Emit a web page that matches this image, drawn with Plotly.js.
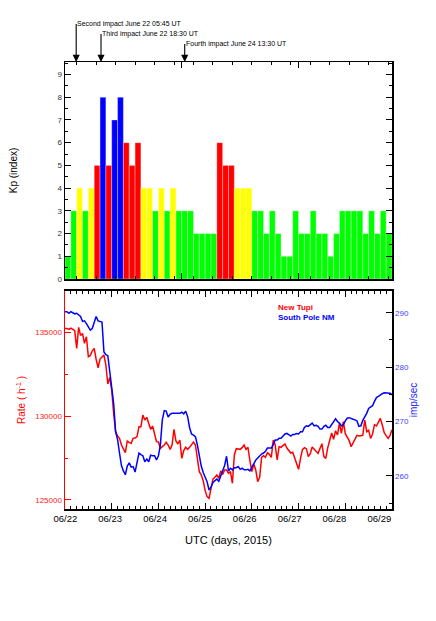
<!DOCTYPE html>
<html>
<head>
<meta charset="utf-8">
<script src="https://cdn.plot.ly/plotly-3.0.1.min.js"></script>
<style>html,body{margin:0;padding:0;background:#fff;}#chart{width:436px;height:621px;}</style>
</head>
<body>
<div id="chart"></div>
<script>
// ---- Data ----
const startDay = '2015-06-22';
const endDay = '2015-06-29';
// Kp index, 3-hour intervals, June 22 - June 28, 2015
const kpValues = [1,3,4,3,4,5,8,5, 7,8,6,5,6,4,4,3, 4,3,4,3,3,3,2,2, 2,2,6,5,5,4,4,4,
                  3,3,2,3,2,1,1,3, 2,2,3,2,2,1,2,3, 3,3,3,2,3,2,3,2];
// hourly counting rates from June 22 00 UT
const newTupi = [135254,135254,135194,135274,135194,135114,134059,135313,134835,134955,134358,134756,
133561,133641,133900,134059,133402,132904,133422,133561,133661,133064,131929,132327,131570,130177,129082,
128823,128683,128285,128026,127827,128544,128424,128385,128683,128703,128783,129380,129380,130077,129778,
129938,129579,129221,129420,128883,128484,128464,128086,128186,128285,128444,128285,128026,128285,129221,
128524,128345,128584,127489,127947,128146,128026,128146,128325,128464,128285,127588,126692,126493,126155,
125557,125199,125100,125796,126234,126354,126493,126294,126732,126533,126792,126792,126593,126692,125996,
127688,128066,128046,128026,128126,128285,128026,128146,127349,126692,127150,126792,126095,126354,127548,
127648,127548,127827,127728,127548,128584,128285,127389,128186,128146,128245,128345,128106,127947,127807,
127847,127509,127150,126832,127489,128006,128126,128066,127588,127767,128166,128006,127907,127787,128146,
128365,127588,127489,128126,128663,129002,128624,129141,128883,129579,128982,129679,128962,128783,128544,
128186,128424,128703,128862,128823,128843,128862,129778,129082,129161,128683,128942,129500,129420,129639,
129878,129480,129022,128843,128683,128862,129201];
const southPole = [290.2,290.2,289.9,290.2,290.0,289.8,289.9,289.6,289.3,288.4,288.5,288.0,287.4,286.8,
287.1,288.2,289.3,288.5,288.4,288.3,282.8,282.3,282.1,279.2,276.1,273.3,268.1,266.7,264.2,261.9,260.9,
260.2,261.8,262.4,261.6,261.7,260.7,262.3,264.2,263.9,263.7,262.6,263.1,262.6,263.8,263.7,263.7,262.9,
263.7,265.7,270.3,272.0,271.9,270.8,271.3,271.5,271.5,271.5,271.6,271.5,271.7,271.4,271.9,270.9,268.9,
267.7,267.5,267.2,265.7,263.6,261.8,260.6,259.9,258.9,257.4,257.9,258.8,259.1,259.4,259.0,260.0,261.0,
261.9,263.6,260.9,261.4,261.1,261.5,261.5,261.7,261.2,261.4,261.1,261.1,261.2,260.9,261.6,262.3,262.9,
263.3,263.7,264.0,264.2,264.5,265.1,265.1,265.1,265.8,266.6,266.6,266.9,266.9,267.4,267.7,267.8,267.5,
267.3,267.6,267.6,267.8,267.7,268.1,268.1,268.9,269.2,269.1,269.4,269.7,269.2,269.3,269.1,268.6,268.6,
269.1,269.3,268.9,268.9,269.5,270.0,270.5,270.0,269.7,269.2,269.4,270.1,270.6,270.7,270.5,270.4,270.3,
270.1,269.1,269.2,270.2,270.8,271.5,272.4,272.6,272.9,273.7,274.4,274.6,274.9,275.1,275.3,275.3,275.2,
275.2,274.9];
const impactTimes = ['2015-06-22 05:45','2015-06-22 18:30','2015-06-24 13:30'];
const impactLabels = ['Second impact June 22 05:45 UT','Third impact June 22 18:30 UT','Fourth impact June 24 13:30 UT'];
const seriesNames = ['New Tupi','South Pole NM'];
const xTitle = 'UTC (days, 2015)';

// ---- Build ----
const H = 3600e3, D = 86400e3;
const t0 = Date.UTC(2015,5,22);
function iso(ms){return new Date(ms).toISOString().replace('T',' ').replace('Z','');}
const kpX = kpValues.map((v,i)=>iso(t0 + (i*3+1.5)*H));
function kpColor(v){ if(v>=7) return '#0000ff'; if(v>=5) return '#ff0000'; if(v>=4) return '#ffff00'; return '#00ff00'; }
const hourX = newTupi.map((v,i)=>iso(t0 + i*H));

const traces = [
  {type:'bar', x:kpX, y:kpValues, width:kpValues.map(()=>3*H), xaxis:'x', yaxis:'y',
   marker:{color:kpValues.map(kpColor), line:{color:'rgba(255,255,255,0.55)', width:0.6}}, hoverinfo:'skip'},
  {type:'scatter', mode:'lines', x:hourX, y:newTupi, xaxis:'x2', yaxis:'y2', name:seriesNames[0],
   line:{color:'#ff0000', width:1.5}},
  {type:'scatter', mode:'lines', x:hourX, y:southPole, xaxis:'x2', yaxis:'y3', name:seriesNames[1],
   line:{color:'#0000ff', width:1.5}},
  {type:'scatter', mode:'lines', x:[hourX[0]], y:[null], xaxis:'x3', yaxis:'y2', showlegend:false, hoverinfo:'skip'}
];

const ff = 'Liberation Sans, Arial, Helvetica, sans-serif';
const annotations = [];
const arrowTails = [-38,-28,-18];
impactTimes.forEach((t,i)=>{
  annotations.push({x:t, xref:'x', y:1, yref:'paper', text:impactLabels[i], showarrow:true, ax:0, ay:arrowTails[i],
    xanchor:'left', yanchor:'middle', borderpad:0,
    arrowhead:2, arrowsize:1.3, arrowwidth:1.1, arrowcolor:'#000', standoff:0,
    font:{family:ff, size:7, color:'#000'}});
});
annotations.push({x:0.645, xref:'paper', y:0.4497, yref:'paper', text:'<b>'+seriesNames[0]+'</b>', showarrow:false,
  xanchor:'left', yanchor:'middle', font:{family:ff, size:8, color:'#ff0000'}});
annotations.push({x:0.645, xref:'paper', y:0.4273, yref:'paper', text:'<b>'+seriesNames[1]+'</b>', showarrow:false,
  xanchor:'left', yanchor:'middle', font:{family:ff, size:8, color:'#0000ff'}});

const layout = {
  width:436, height:621,
  margin:{l:65, r:44, t:62, b:112, pad:0},
  paper_bgcolor:'#fff', plot_bgcolor:'#fff',
  showlegend:false, bargap:0,
  font:{family:ff, size:9, color:'#000'},
  xaxis:{type:'date', anchor:'y', range:[startDay,endDay], showticklabels:false,
    ticks:'inside', tick0:startDay, dtick:60*H, ticklen:6, tickcolor:'#000', tickwidth:1,
    minor:{dtick:10*H, ticklen:3, ticks:'inside', tickcolor:'#000'},
    showline:true, linecolor:'#000', linewidth:1.5, mirror:'ticks', showgrid:false, zeroline:false},
  yaxis:{domain:[0.5145,1], anchor:'x', range:[0,9.55], tick0:0, dtick:1,
    ticks:'inside', ticklen:6, tickcolor:'#000', minor:{dtick:0.5, ticklen:3, ticks:'inside', tickcolor:'#000'},
    showline:true, linecolor:'#000', linewidth:1.5, mirror:'ticks', showgrid:false, zeroline:false,
    tickfont:{size:8, color:'#333'}, title:{text:'Kp (index)', font:{size:10}, standoff:38}},
  xaxis2:{type:'date', anchor:'y2', range:[startDay,endDay], showticklabels:false,
    ticks:'inside', tick0:startDay, dtick:D, ticklen:6, tickcolor:'#000',
    minor:{dtick:3*H, ticklen:3, ticks:'inside', tickcolor:'#000'},
    showline:true, linecolor:'#000', linewidth:1.5, mirror:'ticks', showgrid:false, zeroline:false},
  xaxis3:{type:'date', overlaying:'x2', anchor:'y2', side:'bottom',
    range:[iso(t0-0.007*D), iso(t0+7.283*D)], tick0:startDay, dtick:D, tickformat:'%m/%d',
    ticks:'', showline:false, showgrid:false, zeroline:false, tickfont:{size:9.5}, ticklabelstandoff:2,
    title:{text:xTitle, font:{size:11}, standoff:13}},
  yaxis2:{domain:[0,0.4877], anchor:'x2', range:[124460,137490], tick0:0, dtick:5000,
    tickformat:'d',
    ticks:'inside', ticklen:6, tickcolor:'#ff0000', minor:{dtick:2500, ticklen:3, ticks:'inside', tickcolor:'#ff0000'},
    showline:true, linecolor:'#ff0000', linewidth:1.5, showgrid:false, zeroline:false,
    tickfont:{size:8, color:'#ff2020'}, title:{text:'Rate ( h<sup>-1</sup> )', font:{size:10, color:'#ff0000'}, standoff:7}},
  yaxis3:{overlaying:'y2', anchor:'x2', side:'right', range:[253.9,294], tick0:0, dtick:10,
    ticks:'inside', ticklen:6, tickcolor:'#000', minor:{dtick:5, ticklen:3, ticks:'inside', tickcolor:'#000'},
    showline:true, linecolor:'#000', linewidth:1.5, showgrid:false, zeroline:false,
    tickfont:{size:8, color:'#4444ff'}, title:{text:'imp/sec', font:{size:10, color:'#2222ff'}, standoff:2}},
  annotations:annotations
};

Plotly.newPlot('chart', traces, layout, {displayModeBar:false, staticPlot:true}).then(gd=>{
  // drop placeholder text nodes that have no content or no rendered size
  gd.querySelectorAll('text').forEach(t=>{
    let bb = null;
    try { bb = t.getBBox(); } catch(e) {}
    if(!t.textContent.trim() || !bb || bb.width === 0 || bb.height === 0) t.remove();
  });
});
</script>
</body>
</html>
